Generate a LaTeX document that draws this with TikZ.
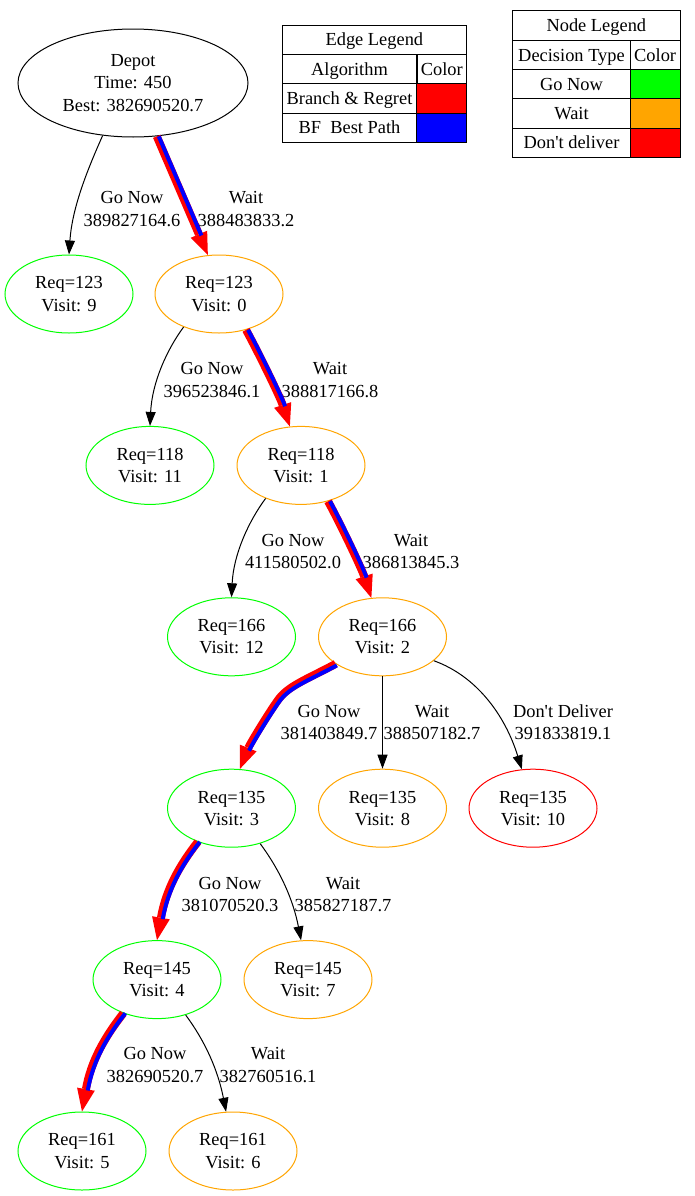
\documentclass[tikz,border=0pt]{standalone}
\usepackage{fontspec}
\newfontfamily\gvfont{Liberation Serif}
\usetikzlibrary{shapes.geometric}
\usetikzlibrary{arrows.meta}
\definecolor{gvgreen}{RGB}{0,255,0}
\definecolor{gvorange}{RGB}{255,165,0}

\begin{document}
\begin{tikzpicture}[x=0.75pt,y=-0.75pt,font=\gvfont\fontsize{13.8pt}{16.6pt}\selectfont,
    state/.style={ellipse,draw,line width=0.75pt,inner sep=0pt,align=center,minimum width=96pt,minimum height=58.5pt},
    gonow/.style={state,draw=gvgreen}, wait/.style={state,draw=gvorange}, nodeliver/.style={state,draw=red},
    elabel/.style={align=center,inner sep=0pt},
    arc/.style={-{Triangle[length=10.5pt,width=7.5pt]},line width=0.75pt},
    regret/.style={-{Triangle[length=17pt,width=13.5pt,line width=0pt]},draw=red,line width=6pt},
    bestpath/.style={draw=blue,line width=3pt,shorten >=16pt,transform canvas={shift={#1}}},
    bestpath/.default={(1.5pt,0pt)},
    cell/.style={rectangle,draw,line width=0.75pt,inner sep=0pt,minimum height=22pt,text height=9.1pt,text depth=0pt}]
  \path[fill=white] (0,0) rectangle (695,1196);

  % tree
  \node[state,minimum width=172.5pt,minimum height=81pt] (depot) at (133,83) {Depot\\Time: 450\\Best: 382690520.7};
  \node[gonow] (v9) at (69,294) {Req=123\\Visit: 9};
  \node[wait] (v0) at (219,294) {Req=123\\Visit: 0};
  \node[gonow] (v11) at (150,465.4) {Req=118\\Visit: 11};
  \node[wait] (v1) at (301,465.4) {Req=118\\Visit: 1};
  \node[gonow] (v12) at (231.5,636.8) {Req=166\\Visit: 12};
  \node[wait] (v2) at (382.5,636.8) {Req=166\\Visit: 2};
  \node[gonow] (v3) at (231.5,808.2) {Req=135\\Visit: 3};
  \node[wait] (v8) at (382.5,808.2) {Req=135\\Visit: 8};
  \node[nodeliver] (v10) at (533,808.2) {Req=135\\Visit: 10};
  \node[gonow] (v4) at (157,979.6) {Req=145\\Visit: 4};
  \node[wait] (v7) at (308,979.6) {Req=145\\Visit: 7};
  \node[gonow] (v5) at (82,1151) {Req=161\\Visit: 5};
  \node[wait] (v6) at (233,1151) {Req=161\\Visit: 6};
  \coordinate (bend23) at (278,700);

  % edge labels
  \node[elabel] (lab1) at (132,209) {Go Now\\389827164.6};
  \node[elabel] (lab2) at (246,209) {Wait\\388483833.2};
  \node[elabel] (lab3) at (212,380) {Go Now\\396523846.1};
  \node[elabel] (lab4) at (330,380) {Wait\\388817166.8};
  \node[elabel] (lab5) at (293,551.5) {Go Now\\411580502.0};
  \node[elabel] (lab6) at (411,551.5) {Wait\\386813845.3};
  \node[elabel] (lab7) at (329,722.5) {Go Now\\381403849.7};
  \node[elabel] (lab8) at (432,722.5) {Wait\\388507182.7};
  \node[elabel] (lab9) at (563,722.5) {Don't Deliver\\391833819.1};
  \node[elabel] (lab10) at (230,894.5) {Go Now\\381070520.3};
  \node[elabel] (lab11) at (343,894.5) {Wait\\385827187.7};
  \node[elabel] (lab12) at (155,1065) {Go Now\\382690520.7};
  \node[elabel] (lab13) at (268,1065) {Wait\\382760516.1};

  % plain edges
  \draw[arc] (depot.-120) .. controls +(-17,38) and +(3,-45) .. (v9.north);
  \draw[arc] (v0.-137) .. controls +(-17,23) and +(2,-43) .. (v11.north);
  \draw[arc] (v1.-137) .. controls +(-17,23) and +(2,-43) .. (v12.north);
  \draw[arc] (v2) -- (v8);
  \draw[arc] (v2.-25) .. controls +(42,15) and +(-17,-55) .. (v10.106);
  \draw[arc] (v3.-51) .. controls +(20,27) and +(-8,-41) .. (v7.100);
  \draw[arc] (v4.-51) .. controls +(20,27) and +(-8,-41) .. (v6.100);

  % best path, red + blue
  \draw[regret] (depot.-66) -- (v0.106);
  \draw[bestpath] (depot.-66) -- (v0.106);
  \draw[regret] (v0.-53) .. controls +(12,22) and +(-10,-30) .. (v1.106);
  \draw[bestpath] (v0.-53) .. controls +(12,22) and +(-10,-30) .. (v1.106);
  \draw[regret] (v1.-53) .. controls +(12,22) and +(-10,-30) .. (v2.106);
  \draw[bestpath] (v1.-53) .. controls +(12,22) and +(-10,-30) .. (v2.106);
  \draw[regret] (v2.-150) .. controls +(-30,16) and +(10,-14) .. (bend23) .. controls +(-10,14) and +(10,-25) .. (v3.78);
  \draw[bestpath={(1pt,-1.1pt)}] (v2.-150) .. controls +(-30,16) and +(10,-14) .. (bend23) .. controls +(-10,14) and +(10,-25) .. (v3.78);
  \draw[regret] (v3.-135) .. controls +(-18,23) and +(9,-51) .. (v4.north);
  \draw[bestpath] (v3.-135) .. controls +(-18,23) and +(9,-51) .. (v4.north);
  \draw[regret] (v4.-135) .. controls +(-18,23) and +(9,-51) .. (v5.north);
  \draw[bestpath] (v4.-135) .. controls +(-18,23) and +(9,-51) .. (v5.north);

  % edge legend
  \node[cell,minimum width=138.5pt] (etitle) at (374.35,39.7) {Edge Legend};
  \node[cell,minimum width=101.25pt] (ealgo) at (349.5,69.1) {Algorithm};
  \node[cell,minimum width=37.3pt] (ecolor) at (441.85,69.1) {Color};
  \node[cell,minimum width=101.25pt] (ebranch) at (349.5,98.5) {Branch \& Regret};
  \node[cell,minimum width=37.3pt,fill=red] (ebranchc) at (441.85,98.5) {};
  \node[cell,minimum width=101.25pt] (ebf) at (349.5,127.9) {BF\ \ Best Path};
  \node[cell,minimum width=37.3pt,fill=blue] (ebfc) at (441.85,127.9) {};

  % node legend
  \node[cell,minimum width=125.5pt] (ntitle) at (596.35,25.65) {Node Legend};
  \node[cell,minimum width=88.2pt] (ntype) at (571.5,54.95) {Decision Type};
  \node[cell,minimum width=37.3pt] (ncolor) at (655.15,54.95) {Color};
  \node[cell,minimum width=88.2pt] (ngo) at (571.5,84.25) {Go Now};
  \node[cell,minimum width=37.3pt,fill=gvgreen] (ngoc) at (655.15,84.25) {};
  \node[cell,minimum width=88.2pt] (nwait) at (571.5,113.55) {Wait};
  \node[cell,minimum width=37.3pt,fill=gvorange] (nwaitc) at (655.15,113.55) {};
  \node[cell,minimum width=88.2pt] (nno) at (571.5,142.85) {Don't deliver};
  \node[cell,minimum width=37.3pt,fill=red] (nnoc) at (655.15,142.85) {};
\end{tikzpicture}
\end{document}
